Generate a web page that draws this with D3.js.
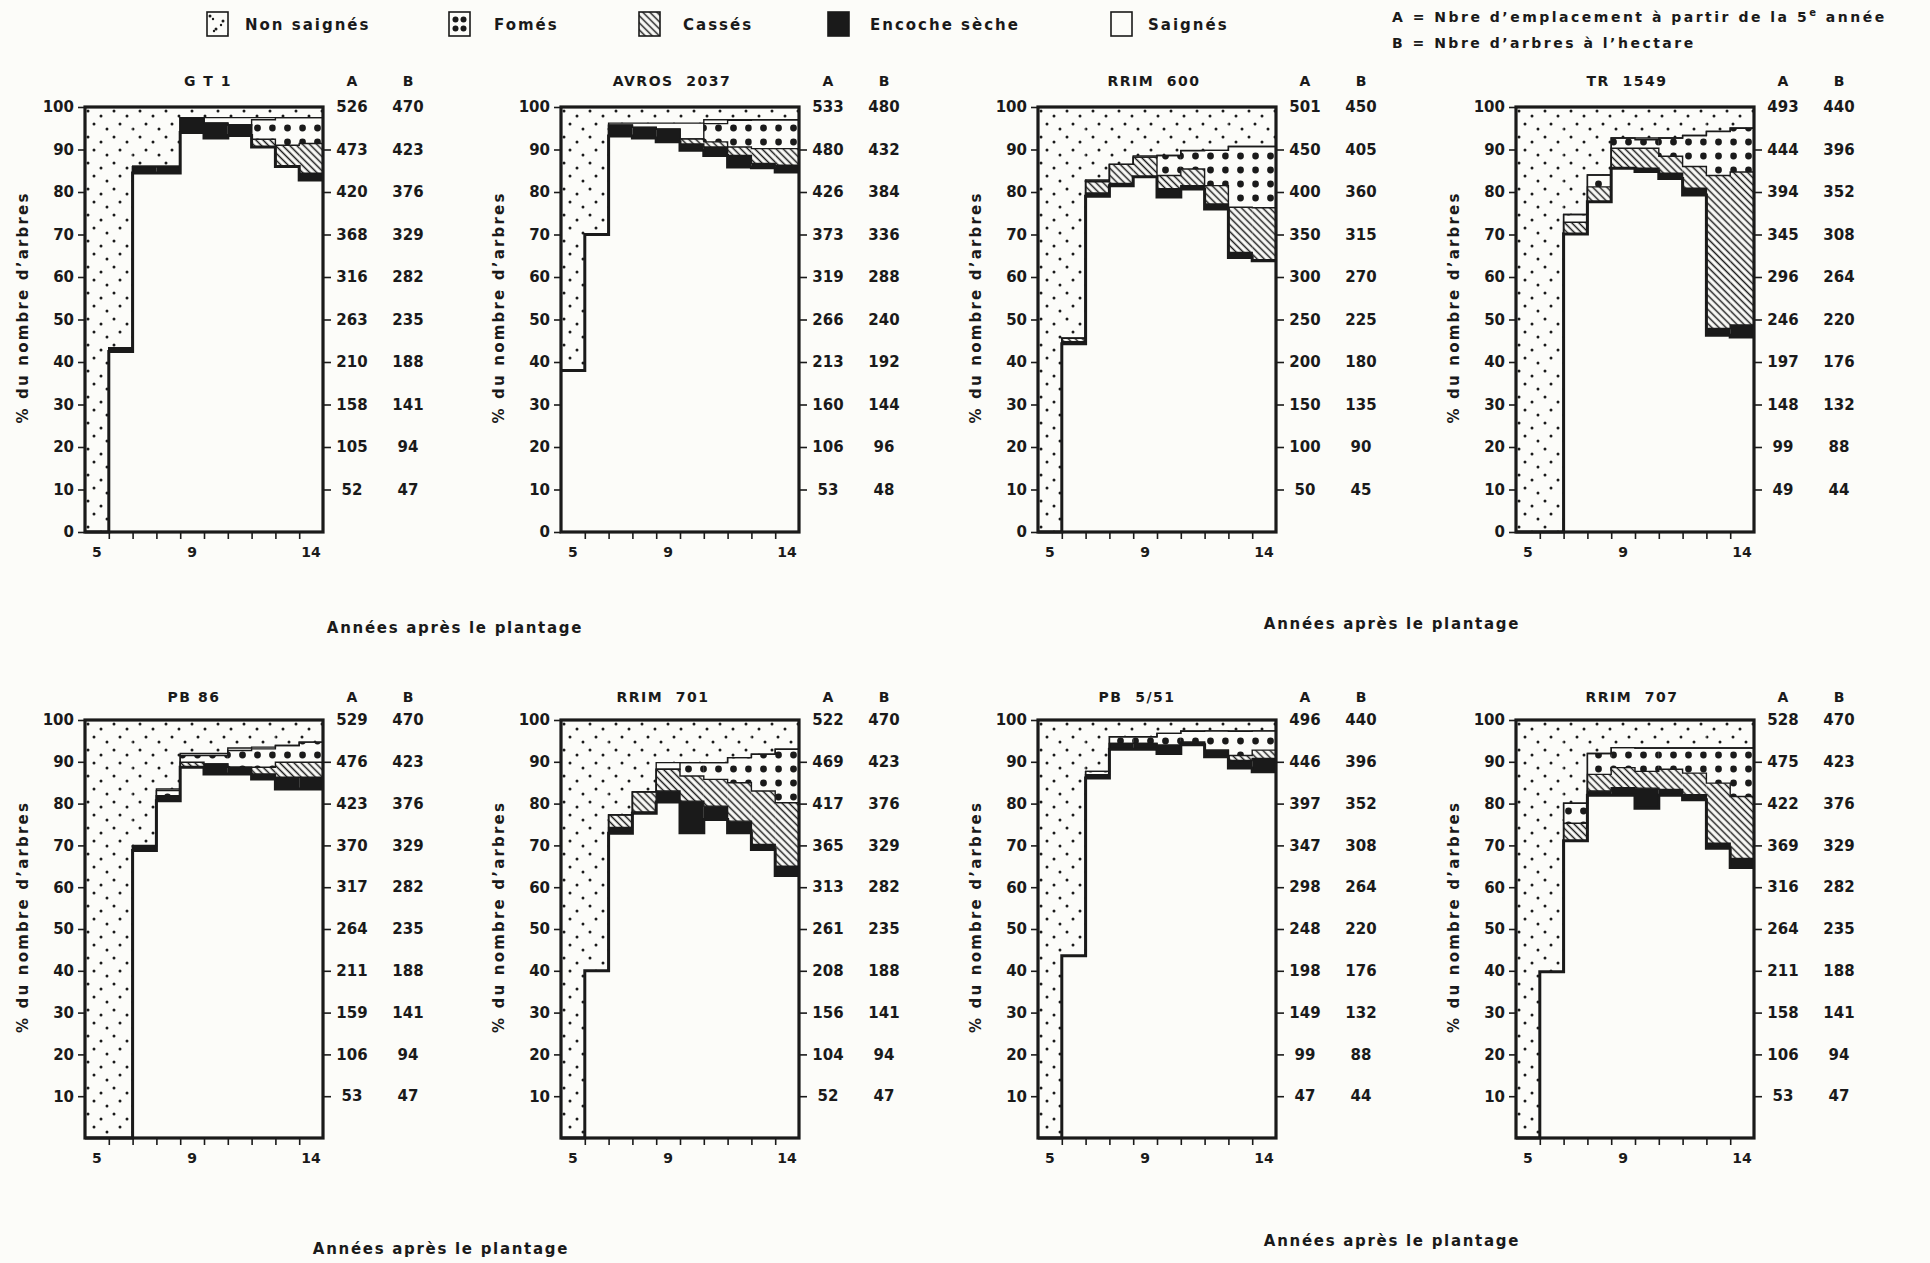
<!DOCTYPE html>
<html>
<head>
<meta charset="utf-8">
<script src="https://cdn.jsdelivr.net/npm/d3@7"></script>
<style>
  body { margin: 0; background: #fcfcf9; }
  svg  { display: block; font-family: "DejaVu Sans", Lato, sans-serif; font-weight: 700; }
</style>
</head>
<body>
<svg id="chart" width="1930" height="1263"></svg>
<script>
// clones, one panel each (top row then bottom row)
const clones = ["G T 1", "AVROS  2037", "RRIM  600", "TR  1549",
                "PB 86", "RRIM  701", "PB  5/51", "RRIM  707"];
const annees = [5, 6, 7, 8, 9, 10, 11, 12, 13, 14];

// % of trees per year (5..14), stacked from the bottom
const saignes = [
  [0, 42.5, 84.5, 84.5, 94, 92.7, 93.3, 90.6, 86, 82.8],
  [38, 70, 93.2, 92.7, 91.8, 89.8, 88.6, 85.9, 85.7, 84.7],
  [0, 44.3, 79, 81.5, 83.6, 78.8, 80.7, 76, 64.6, 63.8],
  [0, 0, 70.1, 77.7, 85.6, 84.8, 83.2, 79.3, 46.3, 45.9],
  [0, 0, 68.8, 80.7, 88.7, 87.1, 87.1, 85.9, 83.5, 83.5],
  [0, 40, 72.9, 77.7, 80.4, 73, 76.2, 73, 69, 62.8],
  [0, 43.6, 86.1, 93, 93, 92, 94.1, 91.2, 88.5, 87.6],
  [0, 39.8, 71.1, 82, 82, 78.9, 82, 80.9, 69.3, 64.7]
];
const encoche = [
  [0, 0.8, 1.5, 1.5, 3.5, 3.5, 2.5, 0, 0, 1.6],
  [0, 0, 2.5, 2.5, 3, 1.5, 2, 2.7, 1, 1.6],
  [0, 0.5, 0.8, 0.5, 0, 2, 0.8, 1.2, 1.2, 0.3],
  [0, 0, 0, 0, 0, 0.8, 1.2, 1.6, 1.6, 2.8],
  [0, 0, 1, 1.2, 0, 2.4, 1.6, 1.2, 2.8, 2.8],
  [0, 0, 1.4, 0.3, 2.6, 7.6, 3.2, 2.8, 1.2, 2.2],
  [0, 0, 0.8, 1.4, 1.4, 2, 0.6, 1.6, 1.8, 3.2],
  [0, 0, 0, 1, 1.8, 4.8, 1.4, 1.2, 1.2, 2.2]
];
const casses = [
  [0, 0, 0, 0, 0, 0, 0, 1.8, 5, 7],
  [0, 0, 0, 0, 0, 1.2, 1.2, 2, 3.5, 3.9],
  [0, 0.8, 2.6, 4.5, 4.6, 3.1, 3.9, 4.3, 10.6, 12.2],
  [0, 0, 2.8, 3.5, 4.7, 4.7, 4, 5.1, 36, 36],
  [0, 0, 0, 0, 1.2, 0, 0, 1.6, 3.6, 3.6],
  [0, 0, 3, 4.8, 5.2, 6, 6.4, 9.2, 12.8, 15.2],
  [0, 0, 0, 0, 0, 0, 0, 0, 1.2, 2],
  [0, 0, 4.2, 4, 4.8, 4, 4.8, 5.2, 14.4, 14.8]
];
const fomes = [
  [0, 0, 0, 0, 0, 0, 0, 4.6, 6.5, 6.1],
  [0, 0, 0, 0, 0, 0, 4.3, 6.3, 6.8, 6.8],
  [0, 0, 0.4, 0, 0, 4.7, 4.3, 8.3, 14.3, 14.4],
  [0, 0, 1.8, 2.8, 2.4, 2, 4.3, 7.3, 10.3, 10.3],
  [0, 0, 0, 1.2, 1.6, 2, 4, 4.4, 4, 4.8],
  [0, 0, 0, 0, 0, 3.2, 4, 6, 8.8, 12.8],
  [0, 0, 0.8, 1.6, 1.6, 2.8, 2.6, 4.6, 5.8, 4.6],
  [0, 0, 4.8, 5, 4.8, 5.6, 5.1, 6, 8.4, 11.6]
];
const nonSaignes = [
  [100, 56.7, 14, 14, 2.5, 2.5, 2.5, 2.5, 2.5, 2.5],
  [62, 30, 3.8, 3.8, 3.8, 3.8, 3, 3, 3, 3],
  [100, 54.4, 17.2, 13.5, 11.5, 11.4, 10.2, 10.2, 9.3, 9.3],
  [100, 100, 25.3, 16, 7.3, 7.3, 7.3, 6.7, 5.7, 4.9],
  [100, 100, 30, 16.5, 8, 8, 6.7, 6.5, 6.1, 5.3],
  [100, 60, 22.7, 17.2, 10.2, 10.2, 10.2, 9, 8.2, 7],
  [100, 56.4, 12.3, 4, 4, 3.2, 2.6, 2.6, 2.6, 2.6],
  [100, 60.2, 19.9, 8.1, 6.7, 6.7, 6.7, 6.7, 6.7, 6.7]
];

// right-hand scales, read at 100, 90, ... 10 %
const niveaux = [100, 90, 80, 70, 60, 50, 40, 30, 20, 10];
const colA = [
  [526, 473, 420, 368, 316, 263, 210, 158, 105, 52],
  [533, 480, 426, 373, 319, 266, 213, 160, 106, 53],
  [501, 450, 400, 350, 300, 250, 200, 150, 100, 50],
  [493, 444, 394, 345, 296, 246, 197, 148, 99, 49],
  [529, 476, 423, 370, 317, 264, 211, 159, 106, 53],
  [522, 469, 417, 365, 313, 261, 208, 156, 104, 52],
  [496, 446, 397, 347, 298, 248, 198, 149, 99, 47],
  [528, 475, 422, 369, 316, 264, 211, 158, 106, 53]
];
const colB = [
  [470, 423, 376, 329, 282, 235, 188, 141, 94, 47],
  [480, 432, 384, 336, 288, 240, 192, 144, 96, 48],
  [450, 405, 360, 315, 270, 225, 180, 135, 90, 45],
  [440, 396, 352, 308, 264, 220, 176, 132, 88, 44],
  [470, 423, 376, 329, 282, 235, 188, 141, 94, 47],
  [470, 423, 376, 329, 282, 235, 188, 141, 94, 47],
  [440, 396, 352, 308, 264, 220, 176, 132, 88, 44],
  [470, 423, 376, 329, 282, 235, 188, 141, 94, 47]
];

const legende = ["Non saignés", "Fomés", "Cassés", "Encoche sèche", "Saignés"];

const INK = "#1a1a1a", PAPER = "#fcfcf9";
const svg = d3.select("#chart");

// patterns
const defs = svg.append("defs");
const pNs = defs.append("pattern").attr("id", "pNs")
  .attr("patternUnits", "userSpaceOnUse").attr("width", 26).attr("height", 26);
pNs.append("rect").attr("width", 26).attr("height", 26).attr("fill", PAPER);
[[3, 4], [16, 9], [9, 17], [22, 22]].forEach(p =>
  pNs.append("circle").attr("cx", p[0]).attr("cy", p[1]).attr("r", 1.5).attr("fill", INK));

const pFo = defs.append("pattern").attr("id", "pFo")
  .attr("patternUnits", "userSpaceOnUse").attr("width", 15).attr("height", 14);
pFo.append("rect").attr("width", 15).attr("height", 14).attr("fill", PAPER);
pFo.append("circle").attr("cx", 7.5).attr("cy", 7).attr("r", 3.4).attr("fill", INK);

const pCa = defs.append("pattern").attr("id", "pCa")
  .attr("patternUnits", "userSpaceOnUse").attr("width", 5).attr("height", 5)
  .attr("patternTransform", "rotate(45)");
pCa.append("rect").attr("width", 5).attr("height", 5).attr("fill", PAPER);
pCa.append("line").attr("x1", 0).attr("x2", 5).attr("y1", 2.5).attr("y2", 2.5)
  .attr("stroke", INK).attr("stroke-width", 1.5);

// fills: saignés, encoche, cassés, fomés, (blank), non saignés
const remplis = [PAPER, INK, "url(#pCa)", "url(#pFo)", PAPER, "url(#pNs)"];

const W = 238;
const colX = [85, 561, 1038, 1516];
const rowY = [107, 720];
const rowH = [425, 418];
const decalTitre = [4, -8, -3, -8, -10, -17, -20, -3];

clones.forEach((nom, i) => {
  const col = i % 4, row = Math.floor(i / 4);
  const H = rowH[row];
  const g = svg.append("g")
    .attr("transform", `translate(${colX[col]},${rowY[row]})`);

  const x  = d3.scaleBand().domain(annees).range([0, W]);
  const xl = d3.scaleLinear().domain([5, 15]).range([0, W]);
  const y  = d3.scaleLinear().domain([0, 100]).range([H, 0]);
  const bw = x.bandwidth();

  // cumulative levels for each year
  const niv = annees.map((a, j) => {
    const l1 = saignes[i][j];
    const l2 = l1 + encoche[i][j];
    const l3 = l2 + casses[i][j];
    const l4 = l3 + fomes[i][j];
    const l5 = 100 - nonSaignes[i][j];
    return [0, l1, l2, l3, l4, Math.max(l4, l5), 100];
  });

  // stacked segments
  annees.forEach((a, j) => {
    for (let k = 0; k < 6; k++) {
      const lo = niv[j][k], hi = niv[j][k + 1];
      if (hi - lo <= 0) continue;
      g.append("rect")
        .attr("x", x(a)).attr("width", bw)
        .attr("y", y(hi)).attr("height", y(lo) - y(hi))
        .attr("fill", remplis[k]);
    }
  });

  // step outlines of every level
  const ligne = d3.line();
  for (let k = 5; k >= 1; k--) {
    const pts = [];
    annees.forEach((a, j) => {
      pts.push([x(a), y(niv[j][k])]);
      pts.push([x(a) + bw, y(niv[j][k])]);
    });
    g.append("path")
      .attr("d", ligne(pts))
      .attr("fill", "none")
      .attr("stroke", INK)
      .attr("stroke-width", k === 1 ? 3 : 1.4);
  }

  // frame
  g.append("rect").attr("width", W).attr("height", H)
    .attr("fill", "none").attr("stroke", INK).attr("stroke-width", 3.2);

  // left axis
  const yTicks = row === 0 ? d3.range(0, 101, 10) : d3.range(10, 101, 10);
  const ax = g.append("g")
    .call(d3.axisLeft(y).tickValues(yTicks).tickSize(7).tickPadding(4));
  ax.select(".domain").remove();
  ax.attr("font-size", 15).attr("font-family", null).attr("color", INK);
  ax.selectAll("line").attr("stroke-width", 1.6);

  // bottom axis
  const bx = g.append("g").attr("transform", `translate(0,${H})`)
    .call(d3.axisBottom(xl).tickValues(d3.range(6, 15)).tickSize(7).tickFormat(""));
  bx.select(".domain").remove();
  bx.attr("color", INK);
  bx.selectAll("line").attr("stroke-width", 1.6);
  [5, 9, 14].forEach(a => {
    g.append("text")
      .attr("x", x(a) + bw / 2).attr("y", H + 25)
      .attr("text-anchor", "middle").attr("font-size", 14).attr("fill", INK)
      .text(a);
  });

  // right ticks and A / B scales
  const rx = g.append("g").attr("transform", `translate(${W},0)`)
    .call(d3.axisRight(y).tickValues(niveaux.slice(1)).tickSize(8).tickFormat(""));
  rx.select(".domain").remove();
  rx.attr("color", INK);
  rx.selectAll("line").attr("stroke-width", 1.6);

  niveaux.forEach((v, j) => {
    g.append("text")
      .attr("x", W + 29).attr("y", y(v)).attr("dy", "0.35em")
      .attr("text-anchor", "middle").attr("font-size", 15).attr("fill", INK)
      .text(colA[i][j]);
    g.append("text")
      .attr("x", W + 85).attr("y", y(v)).attr("dy", "0.35em")
      .attr("text-anchor", "middle").attr("font-size", 15).attr("fill", INK)
      .text(colB[i][j]);
  });

  // headers
  const hy = row === 0 ? -21 : -18;
  g.append("text").attr("x", W / 2 + decalTitre[i]).attr("y", hy)
    .attr("text-anchor", "middle").attr("font-size", 14)
    .attr("letter-spacing", 1.5).attr("fill", INK)
    .style("white-space", "pre")
    .text(nom);
  g.append("text").attr("x", W + 29).attr("y", hy)
    .attr("text-anchor", "middle").attr("font-size", 14).attr("fill", INK).text("A");
  g.append("text").attr("x", W + 85).attr("y", hy)
    .attr("text-anchor", "middle").attr("font-size", 14).attr("fill", INK).text("B");

  // y title
  g.append("text")
    .attr("transform", `translate(-57,${H / 2 - 12}) rotate(-90)`)
    .attr("text-anchor", "middle").attr("font-size", 15)
    .attr("letter-spacing", 2.2).attr("fill", INK)
    .text("% du nombre d’arbres");
});

// x titles, between panel pairs
const xTitres = [
  { x: (colX[0] + W + colX[1]) / 2 + 13, y: 633 },
  { x: (colX[2] + W + colX[3]) / 2 - 4,  y: 629 },
  { x: (colX[0] + W + colX[1]) / 2 - 1,  y: 1254 },
  { x: (colX[2] + W + colX[3]) / 2 - 4,  y: 1246 }
];
xTitres.forEach(t => {
  svg.append("text").attr("x", t.x).attr("y", t.y)
    .attr("text-anchor", "middle").attr("font-size", 15)
    .attr("letter-spacing", 1.7).attr("fill", INK)
    .text("Années après le plantage");
});

// legend
const legBoxX  = [207, 449, 639, 828, 1111];
const legTextX = [245, 494, 683, 870, 1148];
legende.forEach((lab, k) => {
  const lg = svg.append("g").attr("transform", `translate(${legBoxX[k]},12)`);
  const fill = [ "url(#pNs)", PAPER, "url(#pCa)", INK, PAPER ][k];
  lg.append("rect").attr("width", 21).attr("height", 24)
    .attr("fill", fill).attr("stroke", INK).attr("stroke-width", 1.6);
  if (k === 0) {
    [[6, 7], [14, 13], [7, 19]].forEach(p =>
      lg.append("circle").attr("cx", p[0]).attr("cy", p[1]).attr("r", 1.2).attr("fill", INK));
  }
  if (k === 1) {
    [[6.5, 7.5], [14.5, 7.5], [6.5, 16.5], [14.5, 16.5]].forEach(p =>
      lg.append("circle").attr("cx", p[0]).attr("cy", p[1]).attr("r", 3).attr("fill", INK));
  }
  svg.append("text").attr("x", legTextX[k]).attr("y", 30)
    .attr("font-size", 15).attr("letter-spacing", 2).attr("fill", INK)
    .text(lab);
});

const noteA = svg.append("text").attr("x", 1392).attr("y", 22)
  .attr("font-size", 14).attr("letter-spacing", 2.5).attr("fill", INK);
noteA.append("tspan").text("A = Nbre d’emplacement à partir de la 5");
noteA.append("tspan").attr("dy", -6).attr("font-size", 10).text("e");
noteA.append("tspan").attr("dy", 6).text(" année");

svg.append("text").attr("x", 1392).attr("y", 48)
  .attr("font-size", 14).attr("letter-spacing", 2.5).attr("fill", INK)
  .text("B = Nbre d’arbres à l’hectare");
</script>
</body>
</html>
